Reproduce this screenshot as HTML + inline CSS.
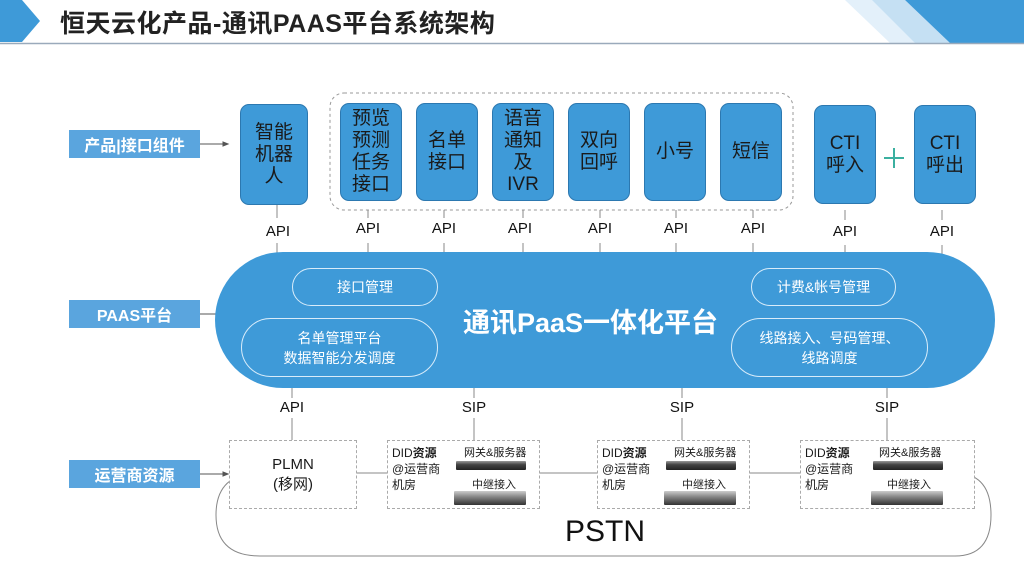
<!DOCTYPE html>
<html><head><meta charset="utf-8"><style>
*{margin:0;padding:0;box-sizing:border-box}
body{width:1024px;height:576px;background:#fff;position:relative;overflow:hidden;font-family:"Liberation Sans","Noto Sans CJK SC",sans-serif;color:#1a1a1a}
.a{position:absolute}
.lbl{position:absolute;background:#5aa5de;color:#fff;font-size:16px;font-weight:bold;display:flex;align-items:center;justify-content:center;width:131px;height:28px;left:69px}
.box{position:absolute;background:#3e9ad8;border:1px solid #2c78b0;border-radius:9px;display:flex;align-items:center;justify-content:center;text-align:center;font-size:19px;line-height:22px;color:#1a1a1a}
.t{position:absolute;font-size:15px;text-align:center;width:60px;color:#111}
.pill{position:absolute;border:1.3px solid #d8ecfa;border-radius:40px;color:#fff;font-size:14px;display:flex;align-items:center;justify-content:center;text-align:center;line-height:20px}
.dash{position:absolute;border:1px dashed #aaa;background:#fff}
.srv{position:absolute;height:9px;background:linear-gradient(#999,#444 40%,#222);border-radius:1px}
.srv2{position:absolute;height:14px;background:linear-gradient(#ccc,#888 40%,#333);border-radius:1px}
</style></head><body>
<svg class="a" style="left:0;top:0" width="1024" height="576">
<polygon points="0,0 22,0 40,21 22,42 0,42" fill="#3e9ad8"/>
<polygon points="845,0 880,0 925,43 890,43" fill="#e3f0fa"/>
<polygon points="872,0 905,0 950,43 915,43" fill="#c5e0f3"/>
<polygon points="905,0 1024,0 1024,43 950,43" fill="#3e9ad8"/>
<line x1="0" y1="43.5" x2="1024" y2="43.5" stroke="#9aaabb" stroke-width="1.5"/>
<g stroke="#555" stroke-width="1" fill="#555">
<line x1="200" y1="144" x2="226" y2="144"/><polygon points="228,144 223,142 223,146"/>
<line x1="200" y1="314" x2="226" y2="314"/><polygon points="228,314 223,312 223,316"/>
<line x1="200" y1="474" x2="226" y2="474"/><polygon points="228,474 223,472 223,476"/>
</g>
<rect x="330" y="93" width="463" height="117" rx="14" fill="none" stroke="#999" stroke-dasharray="3,3"/>
<path d="M260,473 H955 Q991,473 991,515 Q991,556 955,556 H260 Q216,556 216,515 Q216,473 260,473 Z" fill="none" stroke="#888" stroke-width="1"/>
<g stroke="#888" stroke-width="1">
<line x1="277" y1="205" x2="277" y2="218"/><line x1="277" y1="243" x2="277" y2="265"/>
<line x1="368" y1="210" x2="368" y2="218"/><line x1="368" y1="243" x2="368" y2="265"/>
<line x1="444" y1="210" x2="444" y2="218"/><line x1="444" y1="243" x2="444" y2="265"/>
<line x1="523" y1="210" x2="523" y2="218"/><line x1="523" y1="243" x2="523" y2="265"/>
<line x1="600" y1="210" x2="600" y2="218"/><line x1="600" y1="243" x2="600" y2="265"/>
<line x1="676" y1="210" x2="676" y2="218"/><line x1="676" y1="243" x2="676" y2="265"/>
<line x1="753" y1="210" x2="753" y2="218"/><line x1="753" y1="243" x2="753" y2="265"/>
<line x1="845" y1="210" x2="845" y2="220"/><line x1="845" y1="245" x2="845" y2="267"/>
<line x1="942" y1="210" x2="942" y2="220"/><line x1="942" y1="245" x2="942" y2="265"/>
<line x1="292" y1="385" x2="292" y2="398"/><line x1="292" y1="418" x2="292" y2="440"/>
<line x1="474" y1="385" x2="474" y2="398"/><line x1="474" y1="418" x2="474" y2="440"/>
<line x1="682" y1="385" x2="682" y2="398"/><line x1="682" y1="418" x2="682" y2="440"/>
<line x1="887" y1="385" x2="887" y2="398"/><line x1="887" y1="418" x2="887" y2="440"/>
</g>
<rect x="215" y="252" width="780" height="136" rx="68" fill="#3e9ad8"/>
<g stroke="#3bb0a0" stroke-width="2"><line x1="884" y1="158" x2="904" y2="158"/><line x1="894" y1="148" x2="894" y2="168"/></g>
</svg>
<div class="a" style="left:60px;top:4px;font-size:25px;font-weight:bold;color:#222;letter-spacing:0.5px">恒天云化产品-通讯PAAS平台系统架构</div>

<div class="lbl" style="top:130px">产品|接口组件</div>
<div class="lbl" style="top:300px">PAAS平台</div>
<div class="lbl" style="top:460px">运营商资源</div>

<div class="box" style="left:240px;top:104px;width:68px;height:101px">智能<br>机器<br>人</div>
<div class="box" style="left:340px;top:103px;width:62px;height:98px">预览<br>预测<br>任务<br>接口</div>
<div class="box" style="left:416px;top:103px;width:62px;height:98px">名单<br>接口</div>
<div class="box" style="left:492px;top:103px;width:62px;height:98px">语音<br>通知<br>及<br>IVR</div>
<div class="box" style="left:568px;top:103px;width:62px;height:98px">双向<br>回呼</div>
<div class="box" style="left:644px;top:103px;width:62px;height:98px">小号</div>
<div class="box" style="left:720px;top:103px;width:62px;height:98px">短信</div>
<div class="box" style="left:814px;top:105px;width:62px;height:99px">CTI<br>呼入</div>
<div class="box" style="left:914px;top:105px;width:62px;height:99px">CTI<br>呼出</div>

<div class="t" style="left:248px;top:223px">API</div>
<div class="t" style="left:338px;top:220px">API</div>
<div class="t" style="left:414px;top:220px">API</div>
<div class="t" style="left:490px;top:220px">API</div>
<div class="t" style="left:570px;top:220px">API</div>
<div class="t" style="left:646px;top:220px">API</div>
<div class="t" style="left:723px;top:220px">API</div>
<div class="t" style="left:815px;top:223px">API</div>
<div class="t" style="left:912px;top:223px">API</div>

<div class="pill" style="left:292px;top:268px;width:146px;height:38px;border-radius:19px">接口管理</div>
<div class="pill" style="left:241px;top:318px;width:197px;height:59px;border-radius:30px">名单管理平台<br>数据智能分发调度</div>
<div class="pill" style="left:751px;top:268px;width:145px;height:38px;border-radius:19px">计费&amp;帐号管理</div>
<div class="pill" style="left:731px;top:318px;width:197px;height:59px;border-radius:30px">线路接入、号码管理、<br>线路调度</div>
<div class="a" style="left:463px;top:301px;font-size:27px;font-weight:bold;color:#fff">通讯PaaS一体化平台</div>

<div class="t" style="left:262px;top:399px">API</div>
<div class="t" style="left:444px;top:399px">SIP</div>
<div class="t" style="left:652px;top:399px">SIP</div>
<div class="t" style="left:857px;top:399px">SIP</div>

<div class="dash" style="left:229px;top:440px;width:128px;height:69px;display:flex;align-items:center;justify-content:center;text-align:center;font-size:15px;line-height:20px">PLMN<br>(移网)</div>

<div class="dash" style="left:387px;top:440px;width:153px;height:69px">
 <div class="a" style="left:4px;top:4px;font-size:12px;line-height:16px">DID<b>资源</b><br>@运营商<br>机房</div>
 <div class="a" style="left:76px;top:3px;font-size:11px">网关&amp;服务器</div>
 <div class="srv" style="left:68px;top:20px;width:70px"></div>
 <div class="a" style="left:84px;top:35px;font-size:11px">中继接入</div>
 <div class="srv2" style="left:66px;top:50px;width:72px"></div>
</div>
<div class="dash" style="left:597px;top:440px;width:153px;height:69px">
 <div class="a" style="left:4px;top:4px;font-size:12px;line-height:16px">DID<b>资源</b><br>@运营商<br>机房</div>
 <div class="a" style="left:76px;top:3px;font-size:11px">网关&amp;服务器</div>
 <div class="srv" style="left:68px;top:20px;width:70px"></div>
 <div class="a" style="left:84px;top:35px;font-size:11px">中继接入</div>
 <div class="srv2" style="left:66px;top:50px;width:72px"></div>
</div>
<div class="dash" style="left:800px;top:440px;width:175px;height:69px">
 <div class="a" style="left:4px;top:4px;font-size:12px;line-height:16px">DID<b>资源</b><br>@运营商<br>机房</div>
 <div class="a" style="left:78px;top:3px;font-size:11px">网关&amp;服务器</div>
 <div class="srv" style="left:72px;top:20px;width:70px"></div>
 <div class="a" style="left:86px;top:35px;font-size:11px">中继接入</div>
 <div class="srv2" style="left:70px;top:50px;width:72px"></div>
</div>

<div class="a" style="left:565px;top:515px;font-size:30px;color:#111">PSTN</div>
</body></html>
